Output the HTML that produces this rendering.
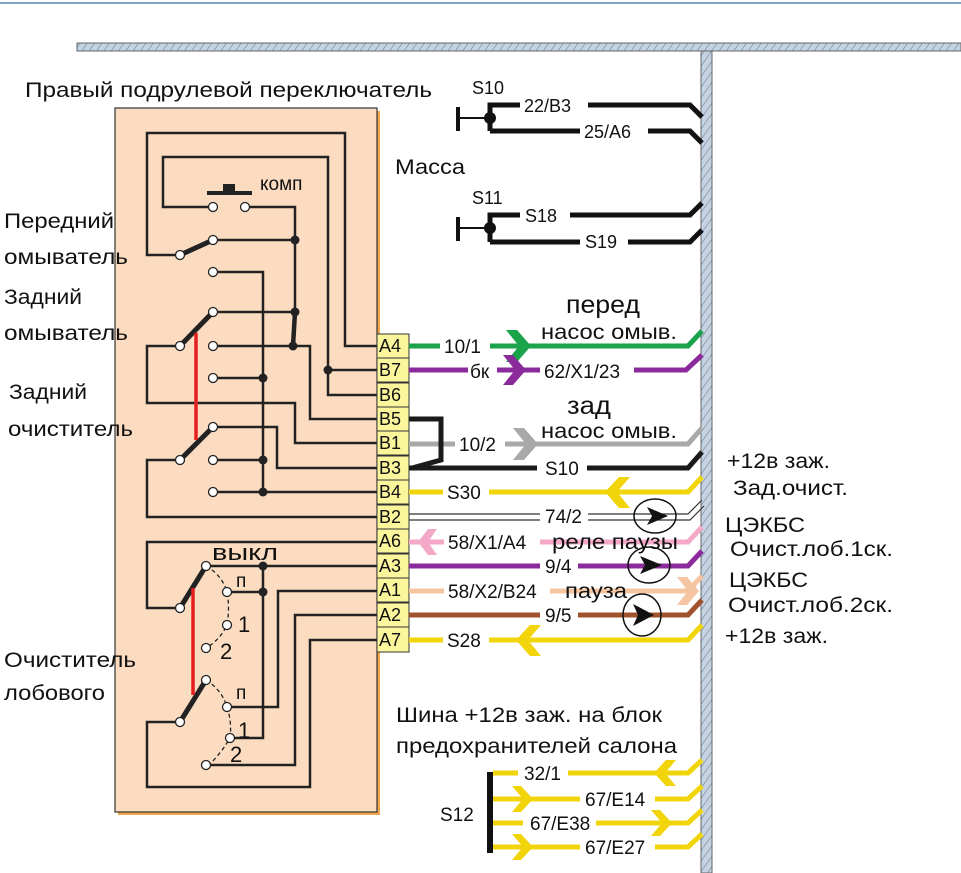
<!DOCTYPE html>
<html><head><meta charset="utf-8">
<style>
html,body{margin:0;padding:0;background:#fff;}
svg{display:block;}
text{font-family:"Liberation Sans",sans-serif;fill:#111;}
</style></head><body>
<svg width="961" height="873" viewBox="0 0 961 873" xmlns="http://www.w3.org/2000/svg">
<defs>
<pattern id="h" width="6" height="6" patternUnits="userSpaceOnUse" patternTransform="rotate(35)">
<rect width="6" height="6" fill="#c3d3e3"/><line x1="0" y1="0" x2="0" y2="6" stroke="#6a7480" stroke-width="1"/>
</pattern>
</defs>
<rect width="961" height="873" fill="#fff"/>
<line x1="0" y1="3" x2="961" y2="3" stroke="#7fa6c8" stroke-width="2"/>
<!-- harness -->
<rect x="77" y="43" width="884" height="8" fill="url(#h)" stroke="#666" stroke-width="1"/>
<rect x="701" y="51" width="11" height="822" fill="url(#h)" stroke="#666" stroke-width="1"/>

<!-- switch box -->
<rect x="118" y="111" width="262" height="704" fill="#f2a54a"/>
<rect x="115" y="108" width="262" height="704" fill="#fcdcc0" stroke="#333" stroke-width="1.2"/>

<!-- internal wiring -->
<g fill="none" stroke="#222" stroke-width="2.5">
<polyline points="377,346 345,346 345,133 147,133 147,255 180,255"/>
<polyline points="377,395 328,395 328,157 163,157 163,207 213,207"/>
<polyline points="245,207 295,207 295,240"/>
<line x1="213" y1="240" x2="295" y2="240"/>
<polyline points="213,272 263,272 263,492"/>
<line x1="213" y1="312" x2="295" y2="312"/>
<line x1="295" y1="240" x2="295" y2="312"/>
<polyline points="213,346 310,346 310,419 377,419"/>
<line x1="328" y1="370" x2="377" y2="370"/>
<line x1="213" y1="378" x2="263" y2="378"/>
<polyline points="180,346 147,346 147,403 295,403 295,443 377,443"/>
<polyline points="213,427 277,427 277,468 377,468"/>
<line x1="213" y1="460" x2="263" y2="460"/>
<line x1="213" y1="492" x2="377" y2="492"/>
<polyline points="180,460 147,460 147,517 377,517"/>
<polyline points="377,542 147,542 147,608 180,608"/>
<line x1="206" y1="566" x2="377" y2="566"/>
<line x1="227" y1="592" x2="263" y2="592"/>
<polyline points="263,566 263,738 230,738"/>
<polyline points="377,591 278,591 278,707 230,707"/>
<polyline points="377,615 295,615 295,765 209,765"/>
<polyline points="377,640 310,640 310,787 147,787 147,722 180,722"/>
</g>
<line x1="295" y1="312" x2="293" y2="346" stroke="#222" stroke-width="4.5"/>
<g stroke="#222" stroke-width="5">
<line x1="180" y1="255" x2="213" y2="240"/>
<line x1="180" y1="346" x2="213" y2="312"/>
<line x1="180" y1="460" x2="213" y2="427"/>
<line x1="180" y1="608" x2="206" y2="566"/>
<line x1="180" y1="722" x2="206" y2="680"/>
</g>
<line x1="196" y1="333" x2="196" y2="440" stroke="#e41e1e" stroke-width="3.5"/>
<line x1="193" y1="588" x2="193" y2="695" stroke="#e41e1e" stroke-width="3.5"/>
<g fill="none" stroke="#222" stroke-width="1.3" stroke-dasharray="4,3">
<path d="M206,566 Q222,575 227,592 Q230,608 227,625 Q220,640 206,648"/>
<path d="M206,680 Q222,690 227,707 Q232,722 230,738 Q222,752 209,765"/>
</g>
<rect x="207" y="191" width="45" height="4" fill="#222"/>
<rect x="223" y="184" width="12" height="8" fill="#222"/>
<g fill="#222">
<circle cx="295" cy="240" r="4.5"/><circle cx="295" cy="312" r="4.5"/><circle cx="293" cy="346" r="4.5"/>
<circle cx="328" cy="370" r="4.5"/><circle cx="263" cy="378" r="4.5"/><circle cx="263" cy="460" r="4.5"/>
<circle cx="263" cy="492" r="4.5"/><circle cx="263" cy="566" r="4.5"/><circle cx="263" cy="592" r="4.5"/>
</g>
<g fill="#fff" stroke="#222" stroke-width="1.3">
<circle cx="213" cy="207" r="4.5"/><circle cx="245" cy="207" r="4.5"/>
<circle cx="180" cy="255" r="4.5"/><circle cx="213" cy="240" r="4.5"/><circle cx="213" cy="272" r="4.5"/>
<circle cx="180" cy="346" r="4.5"/><circle cx="213" cy="312" r="4.5"/><circle cx="213" cy="346" r="4.5"/><circle cx="213" cy="378" r="4.5"/>
<circle cx="180" cy="460" r="4.5"/><circle cx="213" cy="427" r="4.5"/><circle cx="213" cy="460" r="4.5"/><circle cx="213" cy="492" r="4.5"/>
<circle cx="180" cy="608" r="4.5"/><circle cx="206" cy="566" r="4.5"/><circle cx="227" cy="592" r="4.5"/><circle cx="227" cy="625" r="4.5"/><circle cx="206" cy="648" r="4.5"/>
<circle cx="180" cy="722" r="4.5"/><circle cx="206" cy="680" r="4.5"/><circle cx="227" cy="707" r="4.5"/><circle cx="230" cy="738" r="4.5"/><circle cx="206" cy="765" r="4.5"/>
</g>
<text x="260" y="190" font-size="19">комп</text>
<text x="212" y="560" font-size="22" textLength="66" lengthAdjust="spacingAndGlyphs">выкл</text>
<text x="236" y="587" font-size="19">п</text><text x="238" y="632" font-size="22">1</text><text x="220" y="659" font-size="22">2</text>
<text x="236" y="699" font-size="19">п</text><text x="238" y="738" font-size="22">1</text><text x="230" y="762" font-size="22">2</text>

<g font-size="18">
<g fill="#fbf59c" stroke="#333" stroke-width="1">
<rect x="377" y="334" width="32" height="24"/><rect x="377" y="358" width="32" height="24"/>
<rect x="377" y="383" width="32" height="24"/><rect x="377" y="407" width="32" height="24"/>
<rect x="377" y="431" width="32" height="24"/><rect x="377" y="456" width="32" height="24"/>
<rect x="377" y="480" width="32" height="24"/><rect x="377" y="505" width="32" height="24"/>
<rect x="377" y="529" width="32" height="24"/><rect x="377" y="554" width="32" height="24"/>
<rect x="377" y="578" width="32" height="24"/><rect x="377" y="603" width="32" height="24"/>
<rect x="377" y="627" width="32" height="25"/>
</g>
<text x="379" y="352">A4</text><text x="379" y="376">B7</text><text x="379" y="401">B6</text>
<text x="379" y="425">B5</text><text x="379" y="449">B1</text><text x="379" y="474">B3</text>
<text x="379" y="498">B4</text><text x="379" y="523">B2</text><text x="379" y="547">A6</text>
<text x="379" y="572">A3</text><text x="379" y="596">A1</text><text x="379" y="621">A2</text>
<text x="379" y="646">A7</text>
</g>

<!-- external wires -->
<g fill="none" stroke-width="5">
<path stroke="#1aa34a" d="M409,346 L440,346 M490,346 L688,346 L702,331"/>
<path stroke="#8b2a9b" d="M409,370 L468,370 M497,370 L540,370 M634,370 L686,370 L702,355"/>
<path stroke="#a8a8a8" d="M409,444 L455,444 M505,444 L688,444 L702,428"/>
<path stroke="#1a1a1a" d="M409,419 L441,419 L441,460 L412,468"/>
<path stroke="#1a1a1a" d="M409,468 L537,468 M587,468 L688,468 L702,452"/>
<path stroke="#f2d40a" d="M409,492 L443,492 M489,492 L688,492 L702,477"/>
<path stroke="#f4a9c8" d="M409,542 L444,542 M540,542 L688,542 L702,527"/>
<path stroke="#8b2a9b" d="M409,566 L540,566 M578,566 L688,566 L702,551"/>
<path stroke="#f5c4a0" d="M409,591 L444,591 M550,591 L688,591 L702,576"/>
<path stroke="#a0522d" d="M409,615 L540,615 M578,615 L688,615 L702,600"/>
<path stroke="#f2d40a" d="M409,640 L443,640 M489,640 L688,640 L702,625"/>
</g>
<g fill="none" stroke="#333" stroke-width="1.2">
<path d="M409,514 L540,514 M588,514 L688,514 L702,500"/>
<path d="M409,520 L540,520 M588,520 L690,520 L704,506"/>
</g>
<polygon fill="#1aa34a" points="506,330 517,330 531,346 517,362 506,362 519,346"/>
<polygon fill="#8b2a9b" points="503,355 513,355 526,370 513,385 503,385 515,370"/>
<polygon fill="#a8a8a8" points="513,428 524,428 538,444 524,460 513,460 526,444"/>
<polygon fill="#f2d40a" points="630,477 619,477 605,492 619,508 630,508 617,492"/>
<polygon fill="#f4a9c8" points="437,529 428,529 418,542 428,555 437,555 428,542"/>
<polygon fill="#f5c4a0" points="677,577 687,577 699,591 687,605 677,605 688,591"/>
<polygon fill="#f2d40a" points="541,625 530,625 516,640 530,656 541,656 528,640"/>
<g fill="none" stroke="#111" stroke-width="1.5">
<ellipse cx="655" cy="516" rx="21" ry="17"/><ellipse cx="649" cy="565" rx="21" ry="18"/><ellipse cx="642" cy="615" rx="19" ry="21"/>
</g>
<g fill="#111">
<polygon points="647,507 668,516 647,525 652,516"/>
<polygon points="640,556 662,565 640,574 645,565"/>
<polygon points="633,604 654,615 633,626 638,615"/>
</g>
<g font-size="19">
<text x="444" y="353">10/1</text>
<text x="470" y="378">бк</text>
<text x="544" y="378">62/X1/23</text>
<text x="459" y="451">10/2</text>
<text x="545" y="475">S10</text>
<text x="447" y="499">S30</text>
<text x="545" y="523">74/2</text>
<text x="448" y="549">58/X1/A4</text>
<text x="545" y="573">9/4</text>
<text x="448" y="598">58/X2/B24</text>
<text x="545" y="622">9/5</text>
<text x="447" y="647">S28</text>
</g>
<text x="566" y="313" font-size="25" textLength="74" lengthAdjust="spacingAndGlyphs">перед</text>
<text x="541" y="339" font-size="21" textLength="136" lengthAdjust="spacingAndGlyphs">насос омыв.</text>
<text x="567" y="414" font-size="25" textLength="44" lengthAdjust="spacingAndGlyphs">зад</text>
<text x="541" y="438" font-size="21" textLength="136" lengthAdjust="spacingAndGlyphs">насос омыв.</text>
<text x="552" y="549" font-size="21" textLength="126" lengthAdjust="spacingAndGlyphs">реле паузы</text>
<text x="565" y="598" font-size="21" textLength="62" lengthAdjust="spacingAndGlyphs">пауза</text>

<!-- ground S10/S11 -->
<g stroke="#111" fill="none">
<line x1="458" y1="107" x2="458" y2="131" stroke-width="4"/>
<line x1="458" y1="118" x2="490" y2="118" stroke-width="2"/>
<path stroke-width="5" d="M490,131 L490,105 L520,105 M588,105 L690,105 L702,117"/>
<path stroke-width="5" d="M490,131 L580,131 M648,131 L690,131 L702,143"/>
<line x1="458" y1="217" x2="458" y2="241" stroke-width="4"/>
<line x1="458" y1="228" x2="490" y2="228" stroke-width="2"/>
<path stroke-width="5" d="M490,242 L490,215 L520,215 M570,215 L690,215 L702,203"/>
<path stroke-width="5" d="M490,242 L580,242 M628,242 L690,242 L702,230"/>
</g>
<circle cx="490" cy="118" r="6" fill="#111"/><circle cx="490" cy="228" r="6" fill="#111"/>
<g font-size="18">
<text x="472" y="94">S10</text><text x="524" y="112">22/B3</text><text x="584" y="138">25/A6</text>
<text x="472" y="204">S11</text><text x="525" y="222">S18</text><text x="585" y="248">S19</text>
</g>
<text x="395" y="174" font-size="21" textLength="70" lengthAdjust="spacingAndGlyphs">Масса</text>

<!-- S12 -->
<rect x="487" y="772" width="6" height="81" fill="#111"/>
<g fill="none" stroke="#f2d40a" stroke-width="5">
<path d="M493,773 L518,773 M568,773 L688,773 L702,760"/>
<path d="M493,799 L580,799 M655,799 L688,799 L702,786"/>
<path d="M493,823 L523,823 M596,823 L688,823 L702,810"/>
<path d="M493,847 L580,847 M655,847 L688,847 L702,834"/>
</g>
<g fill="#f2d40a">
<polygon points="676,760 666,760 654,773 666,786 676,786 665,773"/>
<polygon points="512,786 521,786 533,799 521,812 512,812 523,799"/>
<polygon points="651,810 660,810 672,823 660,836 651,836 662,823"/>
<polygon points="512,834 521,834 533,847 521,860 512,860 523,847"/>
</g>
<g font-size="19">
<text x="524" y="780">32/1</text><text x="585" y="806">67/E14</text>
<text x="530" y="830">67/E38</text><text x="585" y="854">67/E27</text>
</g>
<text x="440" y="821" font-size="19">S12</text>

<g font-size="21">
<text x="25" y="97" textLength="407" lengthAdjust="spacingAndGlyphs">Правый подрулевой переключатель</text>
<text x="4" y="228" textLength="110" lengthAdjust="spacingAndGlyphs">Передний</text>
<text x="4" y="264" textLength="124" lengthAdjust="spacingAndGlyphs">омыватель</text>
<text x="4" y="304" textLength="78" lengthAdjust="spacingAndGlyphs">Задний</text>
<text x="4" y="340" textLength="124" lengthAdjust="spacingAndGlyphs">омыватель</text>
<text x="9" y="399" textLength="78" lengthAdjust="spacingAndGlyphs">Задний</text>
<text x="8" y="436" textLength="125" lengthAdjust="spacingAndGlyphs">очиститель</text>
<text x="4" y="667" textLength="132" lengthAdjust="spacingAndGlyphs">Очиститель</text>
<text x="4" y="700" textLength="101" lengthAdjust="spacingAndGlyphs">лобового</text>
<text x="396" y="722" textLength="266" lengthAdjust="spacingAndGlyphs">Шина +12в заж. на блок</text>
<text x="396" y="753" textLength="281" lengthAdjust="spacingAndGlyphs">предохранителей салона</text>
<text x="727" y="468" textLength="103" lengthAdjust="spacingAndGlyphs">+12в заж.</text>
<text x="733" y="495" textLength="115" lengthAdjust="spacingAndGlyphs">Зад.очист.</text>
<text x="725" y="532" textLength="80" lengthAdjust="spacingAndGlyphs">ЦЭКБС</text>
<text x="730" y="556" textLength="163" lengthAdjust="spacingAndGlyphs">Очист.лоб.1ск.</text>
<text x="729" y="587" textLength="79" lengthAdjust="spacingAndGlyphs">ЦЭКБС</text>
<text x="728" y="612" textLength="165" lengthAdjust="spacingAndGlyphs">Очист.лоб.2ск.</text>
<text x="725" y="643" textLength="103" lengthAdjust="spacingAndGlyphs">+12в заж.</text>
</g>
</svg>
</body></html>
